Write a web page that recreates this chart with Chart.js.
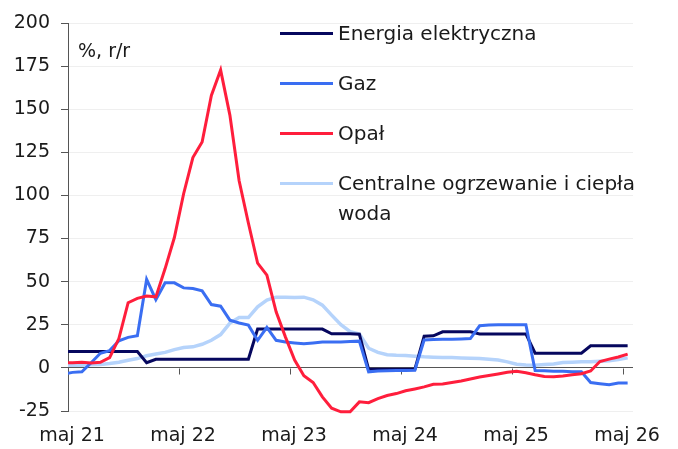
<!DOCTYPE html>
<html>
<head>
<meta charset="utf-8">
<script src="https://cdn.jsdelivr.net/npm/chart.js@4"></script>
<style>
  html, body { margin: 0; padding: 0; background: #fff; }
  #wrap { position: relative; width: 678px; height: 449px; font-family: "DejaVu Sans", sans-serif; color: #1a1a1a; }
  canvas { position: absolute; left: 0; top: 0; }
  .unit { position: absolute; left: 78px; top: 39px; font-size: 19px; }
  .legend { position: absolute; left: 280px; top: 0; font-size: 20px; }
  .legend .row { position: absolute; left: 0; white-space: nowrap; }
  .legend .swatch { position: absolute; left: 0; width: 53px; height: 3px; }
  .legend .label { position: absolute; left: 58px; line-height: 30px; }
</style>
</head>
<body>
<div id="wrap">
  <canvas id="chart" width="678" height="449"></canvas>
  <div class="unit">%, r/r</div>
  <div class="legend" id="legend"></div>
</div>
<script>
// monthly y/y changes, Apr 2021 .. May 2026 (points sit mid-month)
const tickLabels = ['maj 21', 'maj 22', 'maj 23', 'maj 24', 'maj 25', 'maj 26'];
const seriesNames = ['Energia elektryczna', 'Gaz', 'Opał', 'Centralne ogrzewanie i ciepła woda'];

const energia = [
  9.5, 9.5, 9.5, 9.5, 9.5, 9.5, 9.5, 9.5, 9.5, 3,
  5, 5, 5, 5, 5, 5, 5, 5, 5, 5,
  5, 22.5, 22.5, 22.5, 22.5, 22.5, 22.5, 22.5, 22.5, 19.8,
  19.8, 19.8, 19.5, -0.8, -0.8, -0.8, -0.8, -0.8, -0.8, 18.4,
  18.6, 20.9, 20.9, 20.9, 20.9, 19.7, 19.7, 19.7, 19.7, 19.7,
  19.7, 8.5, 8.5, 8.5, 8.5, 8.5, 8.5, 12.8, 12.8, 12.8,
  12.8, 12.8
];
const gaz = [
  -3.5, -2.6, -2.3, 3, 8.5, 10, 15.7, 17.7, 18.6, 51.3,
  39.6, 49.3, 49.3, 46.4, 46, 44.7, 36.7, 35.8, 27.7, 26,
  24.8, 16, 23.5, 16, 15, 14.5, 14, 14.5, 15, 15,
  15, 15.3, 15.5, -2.3, -1.8, -1.6, -1.5, -1.5, -1.4, 16.2,
  16.5, 16.6, 16.6, 16.8, 17, 24.4, 24.8, 25, 25, 25,
  25, -1.5, -1.7, -1.9, -2, -2.2, -2.3, -8.5, -9.2, -9.8,
  -8.8, -8.7
];
const opal = [
  3, 3, 3.3, 2.9, 3.2, 6, 17, 37.8, 40.3, 41.7,
  41.2, 57.6, 75.6, 101, 122, 131, 158, 172.7, 146.6, 108.5,
  84, 60.7, 53.8, 32.5, 18, 4.5, -4.5, -8.5, -16.8, -23.4,
  -25.5, -25.5, -19.7, -20.2, -17.8, -16, -14.9, -13.3, -12.2, -11,
  -9.5, -9.3, -8.5, -7.6, -6.4, -5.3, -4.4, -3.5, -2.5, -2,
  -2.8, -4, -5, -5.2, -4.7, -4, -3.4, -1.8, 3.7, 5.1,
  6.3, 8
];
const ogrzewanie = [
  1.5, 1.5, 1.5, 1.8, 2, 2.5, 3.3, 4.4, 5.4, 7,
  8, 9, 10.6, 11.8, 12.2, 13.7, 16, 19.3, 26, 29.2,
  29.2, 35.4, 39.3, 41, 41, 40.8, 41, 39.5, 36.4, 30.6,
  25, 21, 19.7, 11.4, 9, 7.6, 7.3, 7.2, 6.8, 6.4,
  6.2, 6, 6, 5.8, 5.6, 5.4, 5, 4.6, 3.5, 2.1,
  1.7, 1.5, 1.9, 2.3, 3.1, 3.3, 3.5, 3.5, 3.9, 4.1,
  4.8, 5.8
];

const colors = ['#06075e', '#3a6ef2', '#ff1e3c', '#b5d3fb'];

// month position of each point: first point is April 2021, ticks are at the start of May
const toPoints = arr => arr.map((v, i) => ({ x: i - 0.5, y: v }));

const zeroLineTicks = {
  id: 'zeroLineTicks',
  beforeDatasetsDraw(chart) {
    const { ctx, scales: { x, y } } = chart;
    const y0 = Math.round(y.getPixelForValue(0)) + 0.5;
    ctx.save();
    ctx.strokeStyle = '#555';
    ctx.lineWidth = 1;
    ctx.beginPath();
    for (let m = 12; m <= 60; m += 12) {
      const px = Math.round(x.getPixelForValue(m)) + 0.5;
      ctx.moveTo(px, y0);
      ctx.lineTo(px, y0 + 6);
    }
    ctx.stroke();
    ctx.restore();
  }
};

Chart.defaults.font.family = '"DejaVu Sans", sans-serif';
Chart.defaults.font.size = 19;
Chart.defaults.color = '#1a1a1a';

const data = [energia, gaz, opal, ogrzewanie];
const drawOrder = [2, 1, 0, 3];

new Chart(document.getElementById('chart'), {
  type: 'line',
  data: {
    datasets: data.map((arr, i) => ({
      label: seriesNames[i],
      data: toPoints(arr),
      borderColor: colors[i],
      backgroundColor: colors[i],
      borderWidth: i === 3 ? 3.5 : 3,
      pointRadius: 0,
      tension: 0,
      order: drawOrder[i],
      clip: { left: 0, top: false, right: false, bottom: false }
    }))
  },
  options: {
    responsive: false,
    animation: false,
    layout: { padding: { left: 0, top: 23, right: 45, bottom: 0 } },
    plugins: {
      legend: { display: false },
      tooltip: { enabled: false }
    },
    scales: {
      x: {
        type: 'linear',
        min: 0,
        max: 61.08,
        afterBuildTicks: s => { s.ticks = tickLabels.map((_, i) => ({ value: i * 12 })); },
        afterFit: s => { s.height = 38; },
        ticks: {
          callback: v => tickLabels[v / 12],
          padding: 14,
          labelOffset: 4,
          maxRotation: 0,
          autoSkip: false
        },
        grid: { display: false, drawTicks: false },
        border: { display: false }
      },
      y: {
        min: -25,
        max: 200,
        afterFit: s => { s.width = 68; },
        ticks: { stepSize: 25, padding: 11 },
        grid: {
          color: c => c.tick.value === 0 ? '#555' : '#efefef',
          tickColor: '#555',
          tickLength: 7,
          lineWidth: 1
        },
        border: { color: '#555', width: 1 }
      }
    }
  },
  plugins: [zeroLineTicks]
});

// legend, drawn beside the plot like the original
const rowTops = [18, 68, 118, 168];
const legend = document.getElementById('legend');
seriesNames.forEach((name, i) => {
  const row = document.createElement('div');
  row.className = 'row';
  row.style.top = rowTops[i] + 'px';
  const sw = document.createElement('div');
  sw.className = 'swatch';
  sw.style.top = '14px';
  sw.style.background = colors[i];
  const lb = document.createElement('div');
  lb.className = 'label';
  lb.innerHTML = i === 3 ? 'Centralne ogrzewanie i ciepła<br>woda' : name;
  row.appendChild(sw);
  row.appendChild(lb);
  legend.appendChild(row);
});
</script>
</body>
</html>
